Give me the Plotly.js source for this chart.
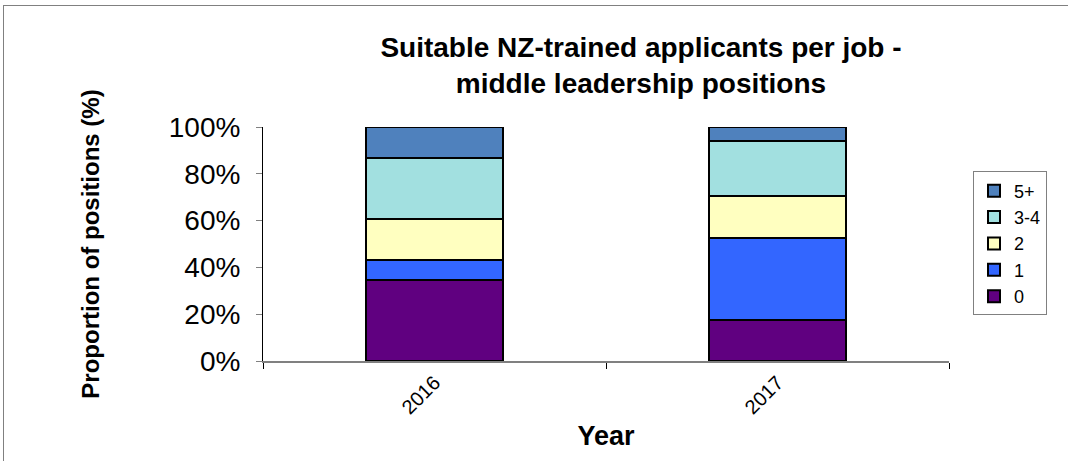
<!DOCTYPE html>
<html><head><meta charset="utf-8">
<script src="https://cdn.plot.ly/plotly-3.0.1.min.js"></script>
<style>
html,body{margin:0;padding:0;background:#fff;}
#frame{position:absolute;left:3px;top:5px;width:1070px;height:460px;border-left:1px solid #808080;border-top:1px solid #808080;box-sizing:border-box;}
#chart{position:absolute;left:0;top:0;width:1068px;height:461px;}
</style></head>
<body>
<div id="chart"></div>
<div id="frame"></div>
<script>
const years = ['2016', '2017'];
const seriesNames = ['0', '1', '2', '3-4', '5+'];
const v0 = [34.5, 17.4];
const v1 = [8.8, 35.3];
const v2 = [17.4, 17.7];
const v34 = [26.1, 23.6];
const v5 = [13.2, 6.0];
const seriesValues = [v0, v1, v2, v34, v5];
const colors = ['#600080', '#3366FF', '#FFFFC0', '#A2E0E0', '#4F81BD'];
const yTickVals = [0, 20, 40, 60, 80, 100];
const yTickText = ['0%', '20%', '40%', '60%', '80%', '100%'];

const traces = seriesNames.map((n, i) => ({
  type: 'bar', name: n, x: years, y: seriesValues[i],
  marker: {color: colors[i], line: {color: '#000', width: 2}},
  width: 0.4, hoverinfo: 'x+y+name'
}));

const layout = {
  width: 1068, height: 461,
  margin: {l: 263, r: 119, t: 127, b: 100},
  paper_bgcolor: '#fff', plot_bgcolor: '#fff',
  barmode: 'stack',
  font: {family: 'Liberation Sans, Arial, sans-serif', color: '#000'},
  title: {text: '<b>Suitable NZ-trained applicants per job -<br>middle leadership positions</b>',
          font: {size: 28, color: '#000'}, x: 641/1068, xanchor: 'center', xref: 'container',
          y: 1 - 57/461, yref: 'container', yanchor: 'top'},
  xaxis: {
    type: 'category', showgrid: false, tickangle: -45,
    tickfont: {size: 20}, showline: true, linecolor: '#808080', linewidth: 2,
    ticks: 'outside', tickson: 'boundaries', ticklen: 6, tickcolor: '#000',
    title: {text: '<b>Year</b>', font: {size: 27}, standoff: 9}
  },
  yaxis: {
    range: [0, 100], tickvals: yTickVals, ticktext: yTickText,
    showgrid: false, zeroline: false, showline: true, linecolor: '#000', linewidth: 1,
    ticks: 'outside', ticklen: 6, tickcolor: '#808080', tickfont: {size: 28},
    ticklabelstandoff: 10,
    title: {text: '<b>Proportion of positions (%)</b>', font: {size: 24}, standoff: 62}
  },
  legend: {
    x: 1.035, y: 0.81, xanchor: 'left', yanchor: 'top', traceorder: 'reversed',
    bordercolor: '#808080', borderwidth: 1, font: {size: 18}, bgcolor: '#fff',
    itemwidth: 30, tracegroupgap: 0
  },
  showlegend: true
};
Plotly.newPlot('chart', traces, layout, {displayModeBar: false, staticPlot: true});
</script>
</body></html>
